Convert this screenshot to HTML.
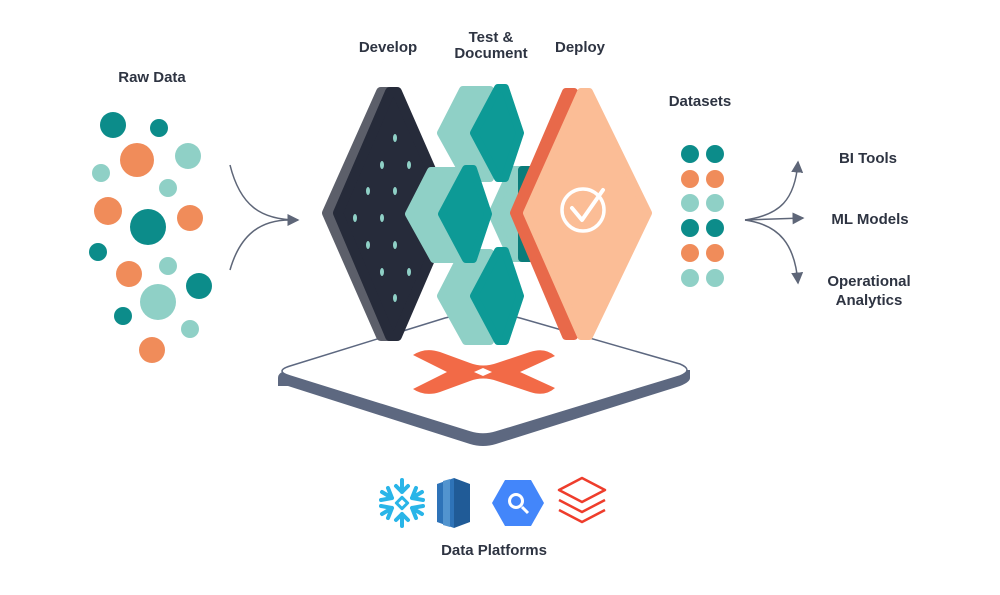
<!DOCTYPE html>
<html><head><meta charset="utf-8"><style>
body{margin:0;background:#fff;}
svg text{font-family:"Liberation Sans",sans-serif;font-weight:bold;fill:#2e3442;font-size:15px;}
</style></head><body>
<svg width="1000" height="590" viewBox="0 0 1000 590" xmlns="http://www.w3.org/2000/svg">
<defs>
<marker id="ah" markerWidth="8" markerHeight="8" refX="7" refY="4" orient="auto"><path d="M0,0 L8,4 L0,8 z" fill="#5e6678"/></marker>
<linearGradient id="side" x1="0" y1="0" x2="0" y2="1"><stop offset="0" stop-color="#9ad8ce"/><stop offset="1" stop-color="#0a8482"/></linearGradient>
</defs>
<text x="152" y="82" text-anchor="middle">Raw Data</text>
<text x="388" y="52" text-anchor="middle">Develop</text>
<text x="491" y="42" text-anchor="middle">Test &amp;</text>
<text x="491" y="58" text-anchor="middle">Document</text>
<text x="580" y="52" text-anchor="middle">Deploy</text>
<text x="700" y="106" text-anchor="middle">Datasets</text>
<text x="868" y="163" text-anchor="middle">BI Tools</text>
<text x="870" y="224" text-anchor="middle">ML Models</text>
<text x="869" y="286" text-anchor="middle">Operational</text>
<text x="869" y="305" text-anchor="middle">Analytics</text>
<text x="494" y="555" text-anchor="middle">Data Platforms</text>

<g>
<circle cx="113" cy="125" r="13" fill="#0c8c8a"/>
<circle cx="159" cy="128" r="9" fill="#0c8c8a"/>
<circle cx="137" cy="160" r="17" fill="#f08c5a"/>
<circle cx="188" cy="156" r="13" fill="#8fd0c6"/>
<circle cx="101" cy="173" r="9" fill="#8fd0c6"/>
<circle cx="168" cy="188" r="9" fill="#8fd0c6"/>
<circle cx="108" cy="211" r="14" fill="#f08c5a"/>
<circle cx="148" cy="227" r="18" fill="#0c8c8a"/>
<circle cx="190" cy="218" r="13" fill="#f08c5a"/>
<circle cx="98" cy="252" r="9" fill="#0c8c8a"/>
<circle cx="129" cy="274" r="13" fill="#f08c5a"/>
<circle cx="168" cy="266" r="9" fill="#8fd0c6"/>
<circle cx="199" cy="286" r="13" fill="#0c8c8a"/>
<circle cx="158" cy="302" r="18" fill="#8fd0c6"/>
<circle cx="123" cy="316" r="9" fill="#0c8c8a"/>
<circle cx="190" cy="329" r="9" fill="#8fd0c6"/>
<circle cx="152" cy="350" r="13" fill="#f08c5a"/>
</g>
<path d="M230,165 C240,205 260,220 298,220" stroke="#5e6678" stroke-width="1.5" fill="none" marker-end="url(#ah)"/>
<path d="M230,270 C240,235 260,220 290,220" stroke="#5e6678" stroke-width="1.5" fill="none"/>

<!-- platform -->
<path d="M288,386 L470,444 Q483,448 496,444 L680,386 Q690,382 690,378 L690,370 L288,370 Q278,372 278,378 L278,386 Z" fill="#5d6880"/>
<path d="M290,366 L445,318 Q483,308 520,318 L680,364 Q694,370 680,376 L496,432 Q483,436 470,432 L290,376 Q274,371 290,366 Z" fill="#fff" stroke="#5d6880" stroke-width="1.5"/>
<path d="M413,355 Q425,347 440,352 L470,363 Q483,368 497,363 L530,352 Q545,347 555,356 L520,372 L555,388 Q545,397 530,392 L497,381 Q483,376 470,381 L440,392 Q425,397 413,389 L447,372 Z" fill="#f26a47"/>
<path d="M474,372 L483,368 L492,372 L483,376 Z" fill="#fff"/>

<g stroke-linejoin="round" stroke-width="10">
<!-- dark develop diamond -->
<path d="M327,213 L381,92 L391,92 L439,213 L391,336 L381,336 Z" fill="#5c5f6a" stroke="#5c5f6a"/>
<path d="M338,213 L390,92 L397,92 L450,213 L397,336 L390,336 Z" fill="#262b3a" stroke="#262b3a"/>
</g>
<g fill="#8fd0c6">
<ellipse cx="395" cy="138" rx="2" ry="4"/>
<ellipse cx="382" cy="165" rx="2" ry="4"/><ellipse cx="409" cy="165" rx="2" ry="4"/>
<ellipse cx="368" cy="191" rx="2" ry="4"/><ellipse cx="395" cy="191" rx="2" ry="4"/>
<ellipse cx="355" cy="218" rx="2" ry="4"/><ellipse cx="382" cy="218" rx="2" ry="4"/>
<ellipse cx="368" cy="245" rx="2" ry="4"/><ellipse cx="395" cy="245" rx="2" ry="4"/>
<ellipse cx="382" cy="272" rx="2" ry="4"/><ellipse cx="409" cy="272" rx="2" ry="4"/>
<ellipse cx="395" cy="298" rx="2" ry="4"/>
</g>

<g stroke-linejoin="round" stroke-width="8">
<!-- right cube -->
<path d="M492,214 L512,170 L540,170 L540,258 L512,258 Z" fill="#8fd0c6" stroke="#8fd0c6"/>
<path d="M522,170 L545,170 L545,258 L522,258 Z" fill="#0a7c7a" stroke="#0a7c7a"/>
<!-- top cube -->
<path d="M441,133 L463,90 L490,90 L490,178 L466,178 Z" fill="#8fd0c6" stroke="#8fd0c6"/>
<path d="M474,133 L498,88 L505,88 L520,133 L505,178 L498,178 Z" fill="#0d9a96" stroke="#0d9a96"/>
<!-- bottom cube -->
<path d="M441,296 L463,253 L490,253 L490,341 L466,341 Z" fill="#8fd0c6" stroke="#8fd0c6"/>
<path d="M474,296 L498,251 L505,251 L520,296 L505,341 L498,341 Z" fill="#0d9a96" stroke="#0d9a96"/>
<!-- mid-left cube -->
<path d="M409,214 L431,171 L458,171 L458,259 L434,259 Z" fill="#8fd0c6" stroke="#8fd0c6"/>
<path d="M442,214 L466,169 L473,169 L488,214 L473,259 L466,259 Z" fill="#0d9a96" stroke="#0d9a96"/>
<!-- orange deploy diamond -->
<path d="M514,213 L566,92 L574,92 L626,213 L574,336 L566,336 Z" fill="#e8694a" stroke="#e8694a"/>
<path d="M527,213 L581,92 L589,92 L648,213 L589,336 L581,336 Z" fill="#fbbd96" stroke="#fbbd96"/>
</g>
<circle cx="583" cy="210" r="21" fill="none" stroke="#fff" stroke-width="3.5"/>
<path d="M572,208 L582,220 L603,190" fill="none" stroke="#fff" stroke-width="4" stroke-linecap="round" stroke-linejoin="round"/>

<g>
<circle cx="690" cy="154" r="9" fill="#0c8c8a"/><circle cx="715" cy="154" r="9" fill="#0c8c8a"/>
<circle cx="690" cy="179" r="9" fill="#f08c5a"/><circle cx="715" cy="179" r="9" fill="#f08c5a"/>
<circle cx="690" cy="203" r="9" fill="#8fd0c6"/><circle cx="715" cy="203" r="9" fill="#8fd0c6"/>
<circle cx="690" cy="228" r="9" fill="#0c8c8a"/><circle cx="715" cy="228" r="9" fill="#0c8c8a"/>
<circle cx="690" cy="253" r="9" fill="#f08c5a"/><circle cx="715" cy="253" r="9" fill="#f08c5a"/>
<circle cx="690" cy="278" r="9" fill="#8fd0c6"/><circle cx="715" cy="278" r="9" fill="#8fd0c6"/>
</g>
<g stroke="#5e6678" stroke-width="1.5" fill="none">
<path d="M745,220 C780,215 795,200 798,162" marker-end="url(#ah)"/>
<path d="M745,220 L803,218" marker-end="url(#ah)"/>
<path d="M745,220 C780,225 795,245 798,283" marker-end="url(#ah)"/>
</g>

<!-- platform logos -->
<g stroke="#29b5e8" stroke-width="4" stroke-linecap="round" stroke-linejoin="round" fill="none">
<path d="M402,480 L402,492 M396,486 L402,492 L408,486"/>
<path d="M402,526 L402,514 M396,520 L402,514 L408,520"/>
<path d="M382,492 L392,498 M381,500 L392,498 L388,488" />
<path d="M422,492 L412,498 M423,500 L412,498 L416,488" />
<path d="M382,514 L392,508 M381,506 L392,508 L388,518" />
<path d="M422,514 L412,508 M423,506 L412,508 L416,518" />
<rect x="398" y="499" width="8" height="8" transform="rotate(45 402 503)" stroke-width="3"/>
</g>
<path d="M437,484 L454,478 L454,528 L437,522 Z" fill="#2e73b8"/>
<path d="M454,478 L470,484 L470,522 L454,528 Z" fill="#205b97"/>
<path d="M443,481 L450,479 L450,527 L443,525 Z" fill="#5294cf"/>
<path d="M492,503 L505,480 L531,480 L544,503 L531,526 L505,526 Z" fill="#4386fa"/>
<circle cx="516" cy="501" r="8" fill="#fff"/>
<circle cx="516" cy="501" r="5" fill="#4386fa"/>
<path d="M522,507 L528,513" stroke="#fff" stroke-width="3"/>
<g stroke="#ee3d2c" stroke-width="2.5" fill="none" stroke-linejoin="round">
<path d="M559,490 L582,478 L605,490 L582,502 Z"/>
<path d="M559,500 L582,512 L605,500"/>
<path d="M559,510 L582,522 L605,510"/>
</g>
</svg>
</body></html>
